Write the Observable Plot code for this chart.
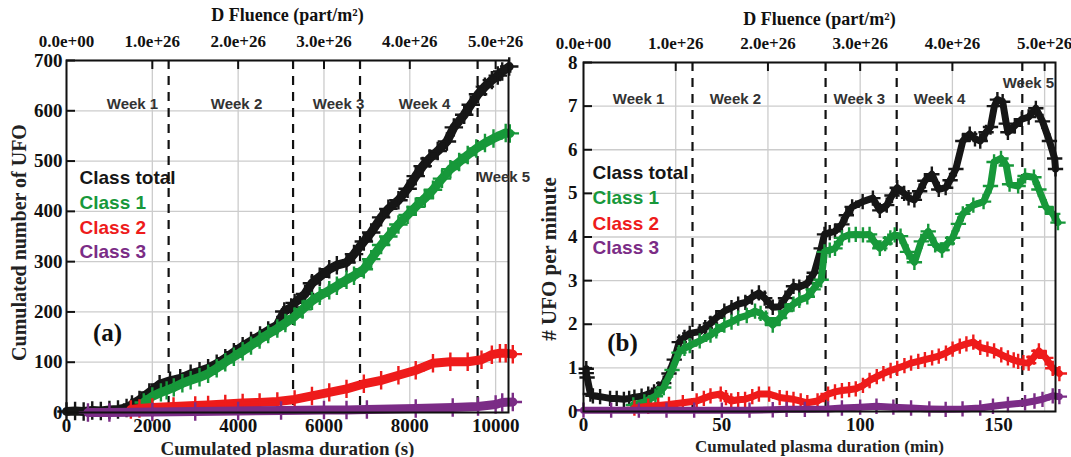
<!DOCTYPE html>
<html><head><meta charset="utf-8">
<script src="https://cdn.jsdelivr.net/npm/d3@7"></script>
<script src="https://cdn.jsdelivr.net/npm/@observablehq/plot@0.6"></script>
<style>
body{margin:0;background:#fff;}
#wrap{display:flex;width:1071px;height:457px;overflow:hidden;}
#wrap > div{flex:none;}
</style></head><body><div id="wrap"><div id="pa"></div><div id="pb"></div></div>
<script>
// ---------- shared labels ----------
const fluenceTicks = [0, 1, 2, 3, 4, 5];                 // x 1e26 part/m²
const fluenceLabels = ["0.0e+00","1.0e+26","2.0e+26","3.0e+26","4.0e+26","5.0e+26"];
const secondsPerFluenceUnit = 2000;                       // 1e26 part/m² per 2000 s of plasma
const weekNames = ["Week 1","Week 2","Week 3","Week 4","Week 5"];
const classNames = ["Class total","Class 1","Class 2","Class 3"];
const classColors = ["#161616","#17983a","#ee1b1b","#7b2c86"];

// ---------- panel (a): cumulated number of UFO vs cumulated plasma duration (s) ----------
const aXTicks = [0, 2000, 4000, 6000, 8000, 10000];
const aYTicks = [0, 100, 200, 300, 400, 500, 600, 700];
const aWeekBounds = [2380, 5280, 6840, 9580];

const aTotalT = [0,200,400,600,800,1000,1200,1400,1526,1700,1930,2170,2413,2650,2893,3100,3300,3500,3700,3900,4105,4300,4510,4700,4913,5075,5236,5316,5560,5720,5900,6123,6300,6525,6700,6929,7100,7332,7500,7735,7950,8138,8300,8460,8650,8865,9026,9268,9420,9590,9750,9912,10050,10154,10317];
const aTotalV = [2,3,2,4,3,5,6,9,16,25,40,56,63,68,77,82,88,97,108,120,132,142,153,163,174,201,209,218,236,257,270,285,293,298,315,340,358,388,405,422,445,470,490,505,520,539,567,592,612,633,648,661,670,678,688];

const aClass1T = [1800,2000,2200,2333,2500,2700,2893,3100,3300,3500,3700,3900,4105,4300,4500,4700,4913,5100,5316,5500,5720,5900,6123,6300,6525,6700,6929,7100,7332,7500,7735,7950,8138,8350,8540,8750,8945,9150,9349,9550,9752,9950,10235,10330];
const aClass1V = [20,32,40,44,50,58,64,70,77,88,100,111,122,133,145,156,167,178,191,205,222,232,243,252,264,272,285,305,333,350,374,393,409,426,443,465,484,498,512,525,536,545,556,555];

const aClass2T = [1500,1700,2000,2494,3000,3300,3700,4105,4500,4913,5316,5720,6123,6525,6929,7332,7735,8138,8540,8945,9349,9671,9912,10100,10235,10400];
const aClass2V = [6,8,10,12,14,15,17,19,20,22,26,33,40,47,57,64,74,84,98,101,101,105,115,118,118,116];

const aClass3T = [500,1000,2000,3000,4000,5000,6000,6525,7000,8138,9000,9590,10000,10154,10400];
const aClass3V = [0,0,1,2,3,4,5,5,6,8,10,12,16,20,21];

// ---------- panel (b): # UFO per minute vs cumulated plasma duration (min) ----------
const bXTicks = [0, 50, 100, 150];
const bYTicks = [0, 1, 2, 3, 4, 5, 6, 7, 8];
const bWeekBounds = [39.4, 87.5, 113.2, 158.6];

const bTotalT = [1,1,1.3,2.5,3.4,6,9.6,12,14.6,16.5,18.4,21,23.4,25.5,27.1,29,30.9,32.8,34.6,36.5,38.4,42,44,45.9,48,50.9,53.5,55.9,58.5,60.9,63.4,65.5,68.4,70.9,73,75.9,78,80.9,83.4,85.9,87.1,89,90.9,93.4,95,97.1,100.9,104.6,107.1,109.6,111.5,113.4,115.9,117.5,119.6,121.5,123.4,125.9,128.4,130.9,132.5,134.6,137.1,139.6,141.5,143.4,145.5,147.1,148.5,149.6,151.5,152.8,153.4,155.9,158.4,160.9,163.5,165.9,168.4,170.3,170.6];
const bTotalV = [0.98,0.88,0.78,0.4,0.36,0.34,0.3,0.3,0.28,0.3,0.33,0.35,0.4,0.45,0.52,0.65,0.87,1.19,1.59,1.7,1.79,1.83,1.92,2.02,2.15,2.3,2.38,2.46,2.5,2.62,2.72,2.6,2.39,2.4,2.6,2.87,2.85,2.94,3.18,3.74,4.06,4.1,4.13,4.29,4.5,4.69,4.81,4.89,4.61,4.73,4.95,5.13,5.0,4.9,4.85,5.05,5.29,5.44,5.09,5.13,5.3,5.56,6.2,6.36,6.25,6.2,6.4,6.52,7.0,7.15,7.1,6.6,6.4,6.55,6.7,6.75,6.95,6.65,6.2,5.8,5.56];

const bClass1T = [18,22,26,29,32,34.5,36.5,38.4,42,45.9,48,50.9,53.5,55.9,59,62,64,65.9,68.4,70.9,73,75.9,78,80.9,83,85.9,87.1,89,90.9,93.4,96,98.4,101,103.4,105,107.1,109,110.9,112.5,114.6,117.1,119.6,122.1,124.6,127.1,129.6,131.5,133.4,135.5,137.1,140.9,144.6,147.1,148.4,150.9,152.8,154,157.1,159.6,162.8,164.6,167.1,169.6,171.5];
const bClass1V = [0.15,0.22,0.35,0.55,0.95,1.35,1.45,1.51,1.62,1.75,1.85,1.98,2.05,2.14,2.2,2.3,2.25,2.14,1.98,2.14,2.3,2.46,2.55,2.63,2.8,3.02,3.66,3.7,3.74,3.98,4.05,4.06,4.05,4.06,3.9,3.74,3.85,3.98,4.05,4.02,3.66,3.42,3.9,4.13,3.82,3.7,3.85,3.98,4.3,4.53,4.73,4.81,5.17,5.72,5.8,5.64,5.21,5.17,5.4,5.37,5.09,4.69,4.53,4.33];

const bClass2T = [18.4,23.4,27,30.9,35.9,40.9,43.5,45.9,49.6,51.5,53.4,55.9,58.4,61,63.4,67.1,70.9,73.5,75.9,78.5,80.9,84.6,88.4,90.9,93.4,96,98.4,101,103.4,106,108.4,111,113.4,116,118.4,121,123.4,126,128.4,131,133.4,136,138.4,140.9,143.4,146,148.4,151,153.4,155.5,157.1,159,160.9,162.8,164.6,167.1,169.6,172];
const bClass2V = [0.08,0.12,0.14,0.16,0.2,0.24,0.3,0.36,0.4,0.32,0.24,0.27,0.28,0.34,0.4,0.4,0.32,0.3,0.28,0.24,0.2,0.24,0.4,0.45,0.48,0.5,0.52,0.6,0.71,0.8,0.87,0.94,0.99,1.05,1.11,1.15,1.19,1.23,1.27,1.34,1.43,1.5,1.55,1.59,1.47,1.43,1.39,1.3,1.23,1.18,1.15,1.12,1.11,1.25,1.39,1.23,0.99,0.87];

const bClass3T = [0,10,20,30,40,50,60,68.4,73.4,80,88.4,93.4,100,105.9,112,118.4,125,130.9,137,143.4,148,153.4,159.6,163,165.9,169.6,172];
const bClass3V = [0.03,0.03,0.03,0.03,0.03,0.03,0.03,0.04,0.05,0.05,0.06,0.08,0.1,0.12,0.1,0.08,0.06,0.05,0.06,0.08,0.12,0.16,0.2,0.24,0.28,0.36,0.34];

const rows = (T, V) => T.map((t, i) => ({t, v: V[i]}));

const serif = "Liberation Serif, Times New Roman, serif";
const sans = "Liberation Sans, Arial, sans-serif";

function panel(cfg) {
  const frameW = cfg.width - cfg.ml - cfg.mr;
  const frameH = cfg.height - cfg.mt - cfg.mb;
  const fluenceX = fluenceTicks.map(f => f * cfg.perFluence).filter(x => x <= cfg.xMax);
  const series = cfg.series;
  const marks = [
    Plot.gridX(fluenceX, {stroke: "#cccccc", strokeOpacity: 1, strokeWidth: 1.3}),
    Plot.gridY(cfg.yTicks, {stroke: "#cccccc", strokeOpacity: 1, strokeWidth: 1.3}),
    Plot.ruleX(cfg.weeks, {stroke: "#111", strokeWidth: 2.2, strokeDasharray: "9,7"})
  ];
  series.forEach((s, k) => {
    marks.push(Plot.line(s, {x: "t", y: "v", stroke: classColors[k], strokeWidth: cfg.lineW, strokeLinejoin: "round"}));
    marks.push(Plot.dot(s, {x: "t", y: "v", symbol: "plus", r: cfg.dotR, stroke: classColors[k], strokeWidth: 2.4}));
  });
  marks.push(
    Plot.frame({stroke: "#111", strokeWidth: 2}),
    Plot.ruleX(fluenceX.filter(x => x > 0), {stroke: "#111", strokeWidth: 2, insetBottom: frameH - 9}),
    Plot.ruleY(cfg.yTicks.filter(y => y > 0), {stroke: "#111", strokeWidth: 2, insetRight: frameW - 9}),
    Plot.axisX(cfg.xTicks, {anchor: "bottom", tickSize: 0, tickPadding: 6, label: null, tickFormat: d => String(d), fontSize: cfg.tickFont, fontWeight: "bold", fontFamily: serif, fill: "#111"}),
    Plot.axisX(fluenceX, {anchor: "top", tickSize: 0, tickPadding: 14, label: null, tickFormat: d => fluenceLabels[Math.round(d / cfg.perFluence)], fontSize: 17, fontWeight: "bold", fontFamily: serif, fill: "#111"}),
    Plot.axisY(cfg.yTicks, {anchor: "left", tickSize: 0, tickPadding: cfg.yPad, label: null, tickFormat: d => String(d), fontSize: cfg.tickFont, fontWeight: "bold", fontFamily: serif, fill: "#111"}),
    Plot.text(["D Fluence (part/m²)"], {frameAnchor: "top", dy: cfg.titleDy, fontSize: 18, fontWeight: "bold", fontFamily: serif, fill: "#111"}),
    Plot.text([cfg.xTitle], {frameAnchor: "bottom", dy: cfg.xTitleDy, fontSize: cfg.xTitleFont, fontWeight: "bold", fontFamily: serif, fill: "#222"}),
    Plot.text([cfg.yTitle], {frameAnchor: "left", textAnchor: "middle", lineAnchor: "middle", rotate: -90, dx: cfg.yTitleDx, dy: cfg.yTitleDy, fontSize: cfg.yTitleFont, fontWeight: "bold", fontFamily: serif, fill: "#222"}),
    Plot.text(weekNames, {x: cfg.weekLabelX, y: cfg.weekLabelY, fontSize: 15, fontWeight: "bold", fontFamily: sans, fill: "#333"}),
    Plot.text(classNames, {x: cfg.legendX, y: cfg.legendY, textAnchor: "start", fill: classColors, fontSize: 19, fontWeight: "bold", fontFamily: sans}),
    Plot.text([cfg.tag], {x: cfg.tagX, y: cfg.tagY, fontSize: 25, fontWeight: "bold", fontFamily: serif, fill: "#111"})
  );
  return Plot.plot({
    width: cfg.width, height: cfg.height,
    marginLeft: cfg.ml, marginRight: cfg.mr, marginTop: cfg.mt, marginBottom: cfg.mb,
    x: {domain: [0, cfg.xMax]},
    y: {domain: cfg.yDomain},
    style: {fontFamily: serif, fontSize: "17px", color: "#111", background: "#fff", overflow: "visible"},
    marks
  });
}

const pa = panel({
  width: 535, height: 457, ml: 66, mr: 27, mt: 60, mb: 45,
  xMax: 10300, yDomain: [0, 700], xTicks: aXTicks, yTicks: aYTicks,
  perFluence: secondsPerFluenceUnit, weeks: aWeekBounds,
  series: [rows(aTotalT, aTotalV), rows(aClass1T, aClass1V), rows(aClass2T, aClass2V), rows(aClass3T, aClass3V)],
  lineW: 9, dotR: 6, tickFont: 19, yPad: 4,
  titleDy: -52, xTitle: "Cumulated plasma duration (s)", xTitleDy: 42, xTitleFont: 19,
  yTitle: "Cumulated number of UFO", yTitleDx: -47, yTitleDy: 6, yTitleFont: 20,
  weekLabelX: [1538, 3962, 6339, 8343, 10207], weekLabelY: [614, 614, 614, 614, 467],
  legendX: [303, 303, 303, 303], legendY: [467, 416, 368, 320],
  tag: "(a)", tagX: 955, tagY: 159
});
const pb = panel({
  width: 536, height: 457, ml: 48, mr: 16, mt: 62, mb: 46,
  xMax: 170.6, yDomain: [0, 8], xTicks: bXTicks, yTicks: bYTicks,
  perFluence: secondsPerFluenceUnit / 60, weeks: bWeekBounds,
  series: [rows(bTotalT, bTotalV), rows(bClass1T, bClass1V), rows(bClass2T, bClass2V), rows(bClass3T, bClass3V)],
  lineW: 7, dotR: 5, tickFont: 19, yPad: 6,
  titleDy: -50, xTitle: "Cumulated plasma duration (min)", xTitleDy: 40, xTitleFont: 17,
  yTitle: "# UFO per minute", yTitleDx: -34, yTitleDy: 22, yTitleFont: 21,
  weekLabelX: [19.9, 54.9, 99.7, 128.7, 160.8], weekLabelY: [7.16, 7.16, 7.16, 7.16, 7.52],
  legendX: [3.25, 3.25, 3.25, 3.25], legendY: [5.46, 4.89, 4.31, 3.76],
  tag: "(b)", tagX: 14.1, tagY: 1.58
});
document.getElementById("pa").appendChild(pa);
document.getElementById("pb").appendChild(pb);
</script></body></html>
